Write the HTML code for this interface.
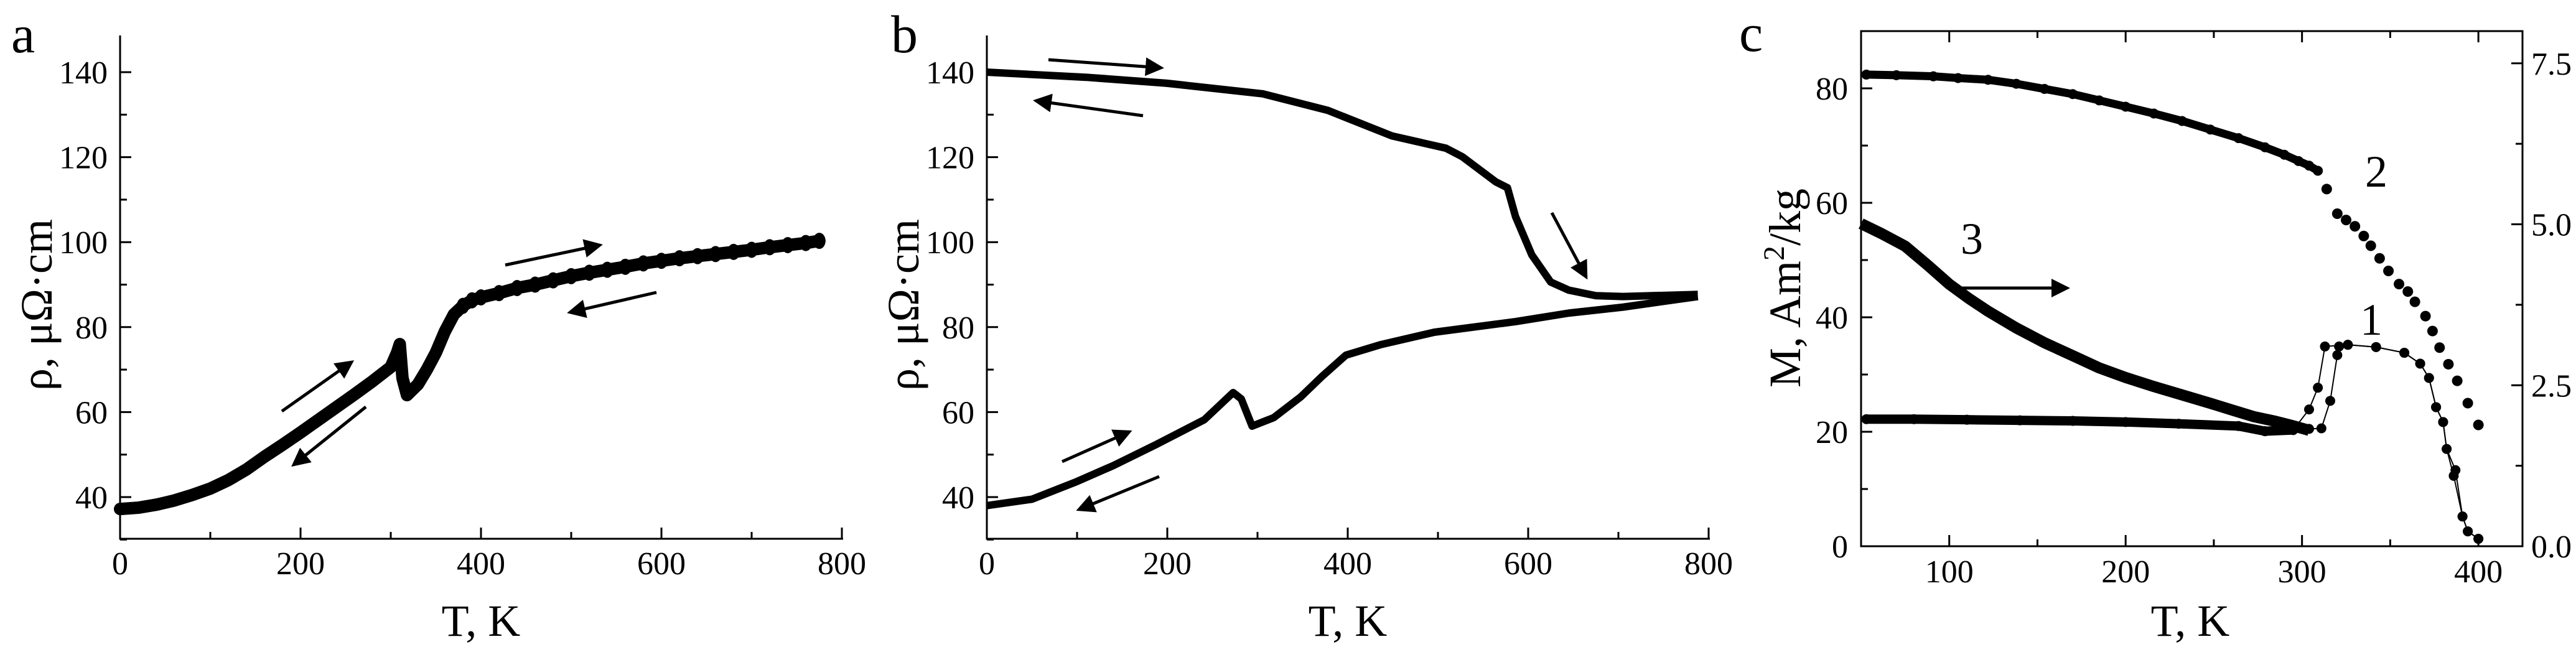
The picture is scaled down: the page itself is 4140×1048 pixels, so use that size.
<!DOCTYPE html>
<html><head><meta charset="utf-8"><style>
html,body{margin:0;padding:0;background:#fff;width:4140px;height:1048px;overflow:hidden}
svg{display:block}
text{font-family:"Liberation Serif","DejaVu Serif",serif;fill:#000}
</style></head><body>
<svg id="fig" width="4140" height="1048" viewBox="0 0 4140 1048" xmlns="http://www.w3.org/2000/svg" font-family="Liberation Serif, serif">
<defs><marker id="ah" markerWidth="6" markerHeight="6" refX="5" refY="3" orient="auto" markerUnits="strokeWidth"><path d="M0,0 L6,3 L0,6 Z" fill="#000"/></marker></defs>
</svg>
<script>
// ---- Panel a data ----
const aT = [0,20,40,60,80,100,120,140,160,180,200,220,240,260,280,300,307,310,313,318,330,340,350,360,370,380,390,400,420,440,460,480,500,520,540,560,580,600,620,640,660,680,700,720,740,760,775];
const aR = [37.2,37.5,38.2,39.2,40.5,42,44,46.5,49.5,52.3,55.2,58.2,61.2,64.2,67.3,70.6,74,76,68,64,66.5,70,74,79,83,85,86.3,87,88,89.2,90,91,92,92.8,93.5,94.2,95,95.6,96.2,96.7,97.2,97.7,98.2,98.8,99.3,99.8,100.3];
// ---- Panel b data ----
const bUpT = [0,110,199,306,378,449,509,527,564,577,586,604,625,645,675,705,788];
const bUpR = [140,138.8,137.4,134.9,131,125,122.1,120.1,114.2,112.8,106,97,90.6,88.7,87.4,87.2,87.7];
const bLoT = [0,50,98,140,187,241,273,282,294,318,348,372,398,437,496,586,645,705,788];
const bLoR = [38,39.5,43.5,47.4,52.3,58.2,64.6,63.1,56.7,58.7,63.6,68.5,73.4,75.9,78.8,81.3,83.3,84.7,87.2];
// ---- Panel c data ----
const c2T = [53,70,91,105,122,138,154,170,185,200,216,232,248,264,279,290,298,304,309,314,320,325,330,335,339,344,349,355,360,364,370,374,378,383,388,394,400];
const c2M = [82.4,82.3,82.1,81.8,81.5,80.8,79.9,79,77.9,76.8,75.6,74.3,72.8,71.3,69.7,68.4,67.3,66.5,65.6,62.4,58.1,57,55.9,54.2,52.5,50.3,48.1,45.8,44.5,42.7,40.2,37.6,34.7,31.8,28.9,25,21.2];
const c1aT = [53,80,110,140,170,200,230,264,279,295,304,309,313,326,342,358,367,372,376,380,382,386,391,394,400];
const c1aM = [22.2,22.2,22.1,22,21.9,21.7,21.4,21,20.1,20.3,23.9,27.7,34.9,35.2,34.8,33.8,31.9,29.4,24.3,21.7,17,12.3,5.2,2.6,1.3];
const c1bT = [279,295,304,311,316,320,321,326,342,358,367,372,376,380,382,387,391,394,400];
const c1bM = [20.1,20.3,20.5,20.6,25.4,33.4,34.9,35.2,34.8,33.8,31.9,29.4,24.3,21.7,17,13.3,5.2,2.6,1.3];
const c3T = [50,62,75,88,100,111,122,138,154,170,185,200,216,232,248,261,273,285,295,304];
const c3V = [5.01,4.85,4.66,4.36,4.07,3.85,3.65,3.39,3.16,2.96,2.77,2.62,2.48,2.35,2.22,2.11,2.01,1.94,1.87,1.8];
// tick labels
const abXTicks = [0,200,400,600,800];
const abYTicks = [40,60,80,100,120,140];
const cXTicks = [100,200,300,400];
const cYTicks = [0,20,40,60,80];
const cY2Ticks = ["0.0","2.5","5.0","7.5"];

const svg = document.getElementById('fig');
const NS = 'http://www.w3.org/2000/svg';
function el(tag, attrs, parent){ const e=document.createElementNS(NS,tag); for(const k in attrs) e.setAttribute(k,attrs[k]); (parent||svg).appendChild(e); return e; }
function lin(d0,d1,r0,r1){ return v => r0+(v-d0)*(r1-r0)/(d1-d0); }

function rhoPanel(name, x0, letter, lx){
  const g = el('g',{});
  
  
  const X = lin(0,800,x0,x0+1160), Y = lin(40,140,799,116);
  const yTop=57, yBot=866;
  const ax = el('path',{d:`M${x0},${yTop} V${yBot} H${x0+1162}`,stroke:'#000','stroke-width':3,fill:'none'},g);
   
  for(let v=0; v<=800; v+=100){ el('line',{x1:X(v),x2:X(v),y1:yBot,y2:yBot-(v%200===0?18:11),stroke:'#000','stroke-width':3},g); }
  for(let v=30; v<=140; v+=10){ el('line',{x1:x0,x2:x0+(v%20===0?18:11),y1:Y(v),y2:Y(v),stroke:'#000','stroke-width':3},g); }
  abXTicks.forEach(v=>{ const t=el('text',{x:X(v),y:923,'font-size':52,'text-anchor':'middle'},g); t.textContent=v;
      });
  abYTicks.forEach(v=>{ const t=el('text',{x:x0-20,y:Y(v)+18,'font-size':52,'text-anchor':'end'},g); t.textContent=v;
      });
  const xt=el('text',{x:x0+580,y:1022,'font-size':72,'text-anchor':'middle'},g); xt.textContent='T, K';
   
  const yt=el('text',{x:0,y:0,'font-size':72,'text-anchor':'middle',transform:`translate(${x0-110},490) rotate(-90)`},g); yt.textContent='ρ, μΩ·cm';
   
  const pl=el('text',{x:lx,y:84,'font-size':86},g); pl.textContent=letter;
   
  return {g,X,Y};
}
function arrow(g,x1,y1,x2,y2,name){
  const a=el('line',{x1,y1,x2,y2,stroke:'#000','stroke-width':5,'marker-end':'url(#ah)'},g);
   
}

// ---- Panel a ----
const A = rhoPanel('panel-a', 193, 'a', 18);
const aPath = el('polyline',{points:aT.map((t,i)=>A.X(t)+','+A.Y(aR[i])).join(' '),fill:'none',stroke:'#000','stroke-width':20,'stroke-linejoin':'round','stroke-linecap':'round'},A.g);
 
aT.forEach((t,i)=>{ if(t>=380){ const c=el('ellipse',{cx:A.X(t),cy:A.Y(aR[i]),rx:10,ry:13,fill:'#000'},A.g);
    }});
arrow(A.g,453,661,565,582,'heating-arrow');
arrow(A.g,588,654,472,747,'cooling-arrow');
arrow(A.g,812,426,964,394,'heating-arrow-high');
arrow(A.g,1055,470,916,502,'cooling-arrow-high');

// ---- Panel b ----
const B = rhoPanel('panel-b', 1586, 'b', 1432);
const bU = el('polyline',{points:bUpT.map((t,i)=>B.X(t)+','+B.Y(bUpR[i])).join(' '),fill:'none',stroke:'#000','stroke-width':12,'stroke-linejoin':'round'},B.g);
 
const bL = el('polyline',{points:bLoT.map((t,i)=>B.X(t)+','+B.Y(bLoR[i])).join(' '),fill:'none',stroke:'#000','stroke-width':12,'stroke-linejoin':'round'},B.g);
 
arrow(B.g,1685,96,1866,109,'arrow-right-top');
arrow(B.g,1837,186,1665,162,'arrow-left-top');
arrow(B.g,2494,342,2549,445,'arrow-down');
arrow(B.g,1707,742,1815,694,'arrow-up-low');
arrow(B.g,1863,766,1734,819,'arrow-down-low');

// ---- Panel c ----
const gc = el('g',{});


const CX = lin(50,425,2991,4054), CY = lin(0,90,878,50), CY2 = lin(0,8,878,50);
const box = el('rect',{x:2991,y:50,width:1063,height:828,fill:'none',stroke:'#000','stroke-width':3},gc);
 
for(let v=50; v<=425; v+=50){ const L=(v%100===0?18:11);
  el('line',{x1:CX(v),x2:CX(v),y1:878,y2:878-L,stroke:'#000','stroke-width':3},gc);
  el('line',{x1:CX(v),x2:CX(v),y1:50,y2:50+L,stroke:'#000','stroke-width':3},gc); }
for(let v=0; v<=90; v+=10){ el('line',{x1:2991,x2:2991+(v%20===0?18:11),y1:CY(v),y2:CY(v),stroke:'#000','stroke-width':3},gc); }
for(let v=0; v<=8; v+=1.25){ el('line',{x1:4054,x2:4054-(Math.round(v/1.25)%2===0?18:11),y1:CY2(v),y2:CY2(v),stroke:'#000','stroke-width':3},gc); }
cXTicks.forEach(v=>{ const t=el('text',{x:CX(v),y:936,'font-size':52,'text-anchor':'middle'},gc); t.textContent=v;
    });
cYTicks.forEach(v=>{ const t=el('text',{x:2970,y:CY(v)+18,'font-size':52,'text-anchor':'end'},gc); t.textContent=v;
    });
cY2Ticks.forEach(s=>{ const t=el('text',{x:4068,y:CY2(parseFloat(s))+18,'font-size':52},gc); t.textContent=s;
    });
const cxt=el('text',{x:3520,y:1022,'font-size':72,'text-anchor':'middle'},gc); cxt.textContent='T, K';
 
const cyt=el('text',{x:0,y:0,'font-size':72,'text-anchor':'middle',transform:'translate(2893,463) rotate(-90)'},gc);
cyt.innerHTML='M, Am<tspan baseline-shift="super" font-size="48">2</tspan>/kg';
 
const cl=el('text',{x:2795,y:82,'font-size':86},gc); cl.textContent='c';
 
// curve 3 (right axis)
const c3 = el('polyline',{points:c3T.map((t,i)=>CX(t)+','+CY2(c3V[i])).join(' '),fill:'none',stroke:'#000','stroke-width':18,'stroke-linejoin':'round'},gc);
 
// curve 1 two branches
[[c1aT,c1aM],[c1bT,c1bM]].forEach(([T,M])=>{
  const p=el('polyline',{points:T.map((t,i)=>CX(t)+','+CY(M[i])).join(' '),fill:'none',stroke:'#000','stroke-width':2},gc);
   
  T.forEach((t,i)=>{ const c=el('circle',{cx:CX(t),cy:CY(M[i]),r:8,fill:'#000'},gc);
      });
});
const c1l=el('polyline',{points:c1aT.filter(t=>t<=300).map((t,i)=>CX(t)+','+CY(c1aM[i])).join(' '),fill:'none',stroke:'#000','stroke-width':15},gc);
 
// curve 2
const c2l=el('polyline',{points:c2T.filter(t=>t<=309).map((t,i)=>CX(t)+','+CY(c2M[i])).join(' '),fill:'none',stroke:'#000','stroke-width':13},gc);
 
c2T.forEach((t,i)=>{ const c=el('circle',{cx:CX(t),cy:CY(c2M[i]),r:t>309?8.5:8,fill:'#000'},gc);
    });
arrow(gc,3147,463,3322,463,'right-axis-arrow');
[['2',3819,300],['3',3169,408],['1',3811,538]].forEach(([s,x,y])=>{ const t=el('text',{x,y,'font-size':72,'text-anchor':'middle'},gc); t.textContent=s;
    });
</script>
</body></html>
